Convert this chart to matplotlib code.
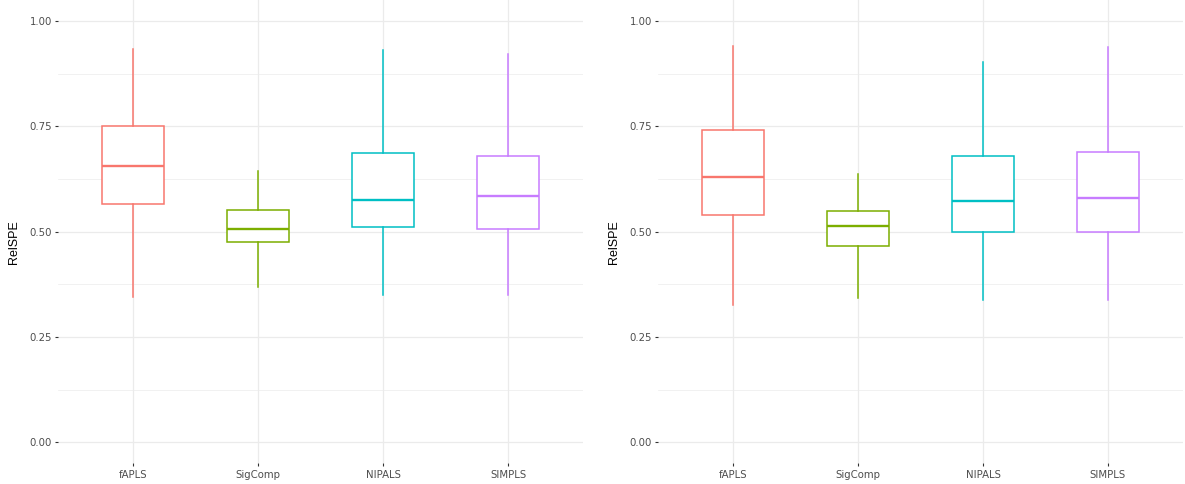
import matplotlib
matplotlib.use("Agg")
import matplotlib.pyplot as plt
from matplotlib.ticker import FixedLocator

categories = ["fAPLS", "SigComp", "NIPALS", "SIMPLS"]
colors = ["#F8766D", "#7CAE00", "#00BFC4", "#C77CFF"]

# Left panel: whisker low, Q1, median, Q3, whisker high
left_low = [0.346, 0.369, 0.350, 0.350]
left_q1 = [0.565, 0.475, 0.511, 0.507]
left_med = [0.657, 0.506, 0.576, 0.584]
left_q3 = [0.752, 0.551, 0.688, 0.680]
left_high = [0.933, 0.645, 0.931, 0.922]

# Right panel
right_low = [0.327, 0.343, 0.339, 0.339]
right_q1 = [0.540, 0.467, 0.500, 0.500]
right_med = [0.631, 0.514, 0.574, 0.581]
right_q3 = [0.741, 0.550, 0.680, 0.689]
right_high = [0.941, 0.637, 0.903, 0.938]

y_ticks = [0.0, 0.25, 0.5, 0.75, 1.0]
y_ticklabels = ["0.00", "0.25", "0.50", "0.75", "1.00"]
y_minor = [0.125, 0.375, 0.625, 0.875]
y_label = "RelSPE"

W, H = 1185, 484
fig = plt.figure(figsize=(W / 100, H / 100), dpi=100)
fig.patch.set_facecolor("white")

bottom = 1 - 463.4 / H
height = 463.4 / H


def draw_panel(ax, low, q1, med, q3, high, ylab_x):
    ax.set_facecolor("white")
    for s in ax.spines.values():
        s.set_visible(False)
    ax.set_xlim(0.4, 4.6)
    ax.set_ylim(-0.05, 1.05)
    ax.yaxis.set_major_locator(FixedLocator(y_ticks))
    ax.yaxis.set_minor_locator(FixedLocator(y_minor))
    ax.set_yticklabels(y_ticklabels)
    ax.set_xticks(range(1, len(categories) + 1))
    ax.set_xticklabels(categories)
    ax.grid(True, which="major", axis="both", color="#EBEBEB", linewidth=0.9, zorder=0)
    ax.grid(True, which="minor", axis="y", color="#EBEBEB", linewidth=0.5, zorder=0)
    ax.set_axisbelow(True)
    ax.tick_params(axis="both", which="major", length=2.2, width=0.8, color="#333333",
                   labelcolor="#4D4D4D", labelsize=7.3, pad=2.2)
    ax.tick_params(axis="y", which="minor", length=0)
    for lab in ax.get_xticklabels() + ax.get_yticklabels():
        lab.set_family("DejaVu Sans")
    stats = []
    for i in range(len(categories)):
        stats.append({"whislo": low[i], "q1": q1[i], "med": med[i], "q3": q3[i],
                      "whishi": high[i], "fliers": [], "label": categories[i]})
    bp = ax.bxp(stats, positions=range(1, len(categories) + 1), widths=0.5,
                showfliers=False, showcaps=False, patch_artist=True,
                manage_ticks=False, zorder=3)
    for i, c in enumerate(colors):
        bp["boxes"][i].set_facecolor("white")
        bp["boxes"][i].set_edgecolor(c)
        bp["boxes"][i].set_linewidth(1.1)
        bp["medians"][i].set_color(c)
        bp["medians"][i].set_linewidth(1.7)
        for w in bp["whiskers"][2 * i:2 * i + 2]:
            w.set_color(c)
            w.set_linewidth(1.1)
    fig.text(ylab_x, 1 - 242 / H, y_label, rotation=90, ha="center", va="center",
             fontsize=9.0, color="black",
             family=["Liberation Sans Narrow", "Liberation Sans", "DejaVu Sans"])


ax1 = fig.add_axes([58 / W, bottom, 525 / W, height])
draw_panel(ax1, left_low, left_q1, left_med, left_q3, left_high, 14 / W)
ax2 = fig.add_axes([658 / W, bottom, 525 / W, height])
draw_panel(ax2, right_low, right_q1, right_med, right_q3, right_high, 614 / W)

fig.savefig("out.png", dpi=100, facecolor="white")
